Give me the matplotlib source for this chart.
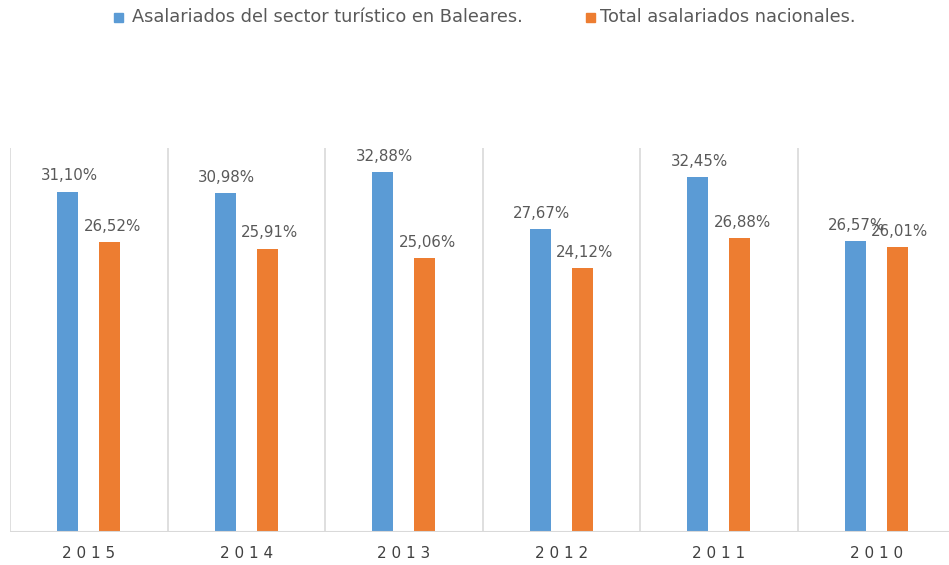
import matplotlib
matplotlib.use("Agg")
import matplotlib.pyplot as plt
import numpy as np

years = ["2015", "2014", "2013", "2012", "2011", "2010"]
baleares = [31.10, 30.98, 32.88, 27.67, 32.45, 26.57]
nacional = [26.52, 25.91, 25.06, 24.12, 26.88, 26.01]
series_names = ["Asalariados del sector turístico en Baleares.",
                "Total asalariados nacionales."]

BLUE = "#5B9BD5"
ORANGE = "#ED7D31"
GRAY = "#595959"
GRID = "#D9D9D9"

W, H = 949, 565
fig = plt.figure(figsize=(W / 100, H / 100), dpi=100)
left_px, right_px, top_px, bot_px = 10, 949, 148, 532
ax = fig.add_axes([left_px / W, (H - bot_px) / H, (right_px - left_px) / W, (bot_px - top_px) / H])

cat_w = 157.5
x = np.arange(len(years))
bw = 0.133
off = 0.133
ax.bar(x - off, baleares, width=bw, color=BLUE, zorder=3)
ax.bar(x + off, nacional, width=bw, color=ORANGE, zorder=3)

ax.set_xlim(-0.5, -0.5 + (right_px - left_px) / cat_w)
ax.set_ylim(0, 35.1)

for b in np.arange(-0.5, len(years), 1.0):
    ax.axvline(b, color=GRID, lw=1.2, zorder=1)
ax.axhline(0, color=GRID, lw=1.5, zorder=4)

fmt = lambda v: f"{v:.2f}%".replace(".", ",")
for xi, v in zip(x, baleares):
    ax.annotate(fmt(v), (xi - off, v), xytext=(1, 6), textcoords="offset points",
                ha="center", va="bottom", color=GRAY, fontsize=10.8)
for xi, v in zip(x, nacional):
    ax.annotate(fmt(v), (xi + off, v), xytext=(2, 6), textcoords="offset points",
                ha="center", va="bottom", color=GRAY, fontsize=10.8)

for s in ax.spines.values():
    s.set_visible(False)
ax.set_yticks([])
ax.set_xticks(x)
ax.set_xticklabels([" ".join(y) for y in years], color="#404040", fontsize=11)
ax.tick_params(axis="x", length=0, pad=10)

# legend
fig.patches.append(plt.Rectangle((114 / W, 1 - 22 / H), 9 / W, 9 / H, transform=fig.transFigure,
                                 color=BLUE, figure=fig))
fig.text(132 / W, 1 - 17 / H, series_names[0], color=GRAY, fontsize=12.8, va="center", ha="left")
fig.patches.append(plt.Rectangle((586 / W, 1 - 22 / H), 9 / W, 9 / H, transform=fig.transFigure,
                                 color=ORANGE, figure=fig))
fig.text(600 / W, 1 - 17 / H, series_names[1], color=GRAY, fontsize=12.8, va="center", ha="left")

fig.savefig("out.png", dpi=100)
